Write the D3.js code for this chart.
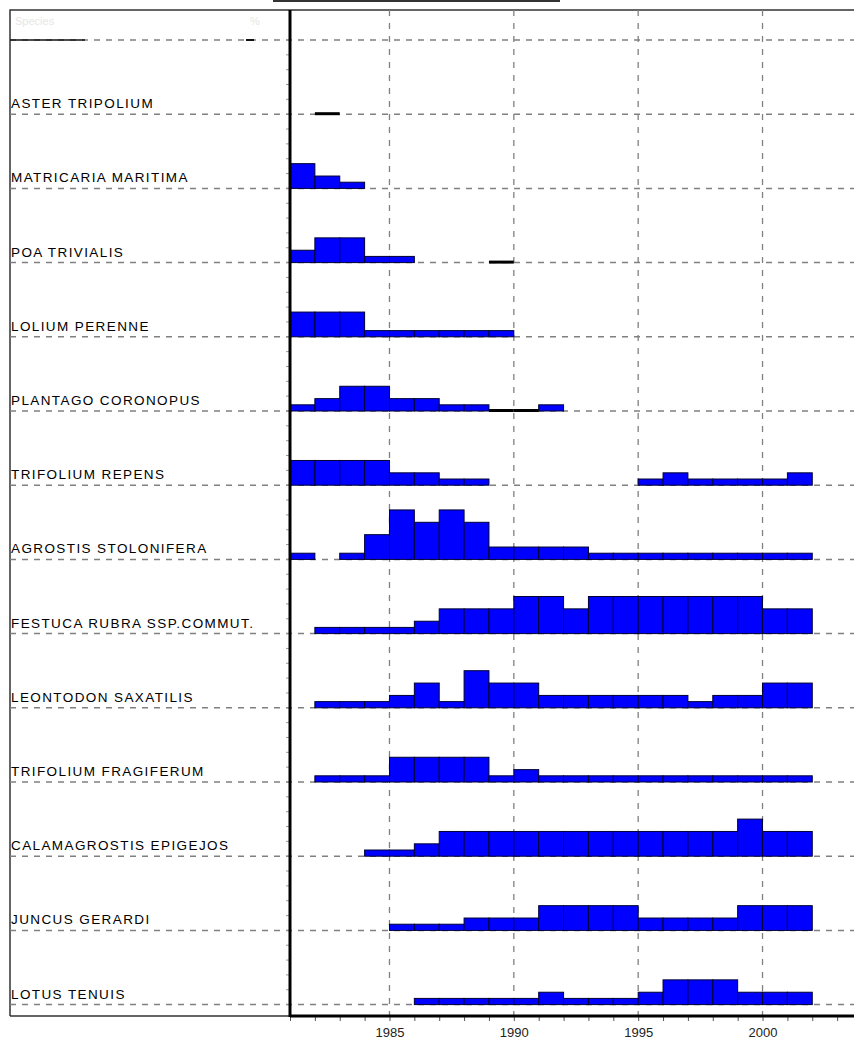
<!DOCTYPE html>
<html>
<head>
<meta charset="utf-8">
<script src="https://cdn.jsdelivr.net/npm/d3@7"></script>
<style>
  body { margin: 0; background: #fff; }
  svg { display: block; font-family: "Liberation Sans", Arial, sans-serif; }
</style>
</head>
<body>
<svg id="chart"></svg>
<script>
// cover classes per year, 1981..2001 (null = absent, 0 = present but ~0)
const years = [1981, 1982, 1983, 1984, 1985, 1986, 1987, 1988, 1989, 1990, 1991,
               1992, 1993, 1994, 1995, 1996, 1997, 1998, 1999, 2000, 2001];
const n = null;

const asterTripolium      = [n, 0, n, n, n, n, n, n, n, n, n, n, n, n, n, n, n, n, n, n, n];
const matricariaMaritima  = [2, 1, .5, n, n, n, n, n, n, n, n, n, n, n, n, n, n, n, n, n, n];
const poaTrivialis        = [1, 2, 2, .5, .5, n, n, n, 0, n, n, n, n, n, n, n, n, n, n, n, n];
const loliumPerenne       = [2, 2, 2, .5, .5, .5, .5, .5, .5, n, n, n, n, n, n, n, n, n, n, n, n];
const plantagoCoronopus   = [.5, 1, 2, 2, 1, 1, .5, .5, 0, 0, .5, n, n, n, n, n, n, n, n, n, n];
const trifoliumRepens     = [2, 2, 2, 2, 1, 1, .5, .5, n, n, n, n, n, n, .5, 1, .5, .5, .5, .5, 1];
const agrostisStolonifera = [.5, n, .5, 2, 4, 3, 4, 3, 1, 1, 1, 1, .5, .5, .5, .5, .5, .5, .5, .5, .5];
const festucaRubra        = [n, .5, .5, .5, .5, 1, 2, 2, 2, 3, 3, 2, 3, 3, 3, 3, 3, 3, 3, 2, 2];
const leontodonSaxatilis  = [n, .5, .5, .5, 1, 2, .5, 3, 2, 2, 1, 1, 1, 1, 1, 1, .5, 1, 1, 2, 2];
const trifoliumFragiferum = [n, .5, .5, .5, 2, 2, 2, 2, .5, 1, .5, .5, .5, .5, .5, .5, .5, .5, .5, .5, .5];
const calamagrostis       = [n, n, n, .5, .5, 1, 2, 2, 2, 2, 2, 2, 2, 2, 2, 2, 2, 2, 3, 2, 2];
const juncusGerardi       = [n, n, n, n, .5, .5, .5, 1, 1, 1, 2, 2, 2, 2, 1, 1, 1, 1, 2, 2, 2];
const lotusTenuis         = [n, n, n, n, n, .5, .5, .5, .5, .5, 1, .5, .5, .5, 1, 2, 2, 2, 1, 1, 1];

const speciesNames = ["", "ASTER TRIPOLIUM", "MATRICARIA MARITIMA", "POA TRIVIALIS",
  "LOLIUM PERENNE", "PLANTAGO CORONOPUS", "TRIFOLIUM REPENS", "AGROSTIS STOLONIFERA",
  "FESTUCA RUBRA SSP.COMMUT.", "LEONTODON SAXATILIS", "TRIFOLIUM FRAGIFERUM",
  "CALAMAGROSTIS EPIGEJOS", "JUNCUS GERARDI", "LOTUS TENUIS"];
const speciesValues = [[], asterTripolium, matricariaMaritima, poaTrivialis, loliumPerenne,
  plantagoCoronopus, trifoliumRepens, agrostisStolonifera, festucaRubra, leontodonSaxatilis,
  trifoliumFragiferum, calamagrostis, juncusGerardi, lotusTenuis];
const majorYears = [1985, 1990, 1995, 2000];

const width = 854, height = 1045;
const panelLeft = 10, axisX = 290, plotTop = 10, plotBottom = 1016;

const svg = d3.select("#chart").attr("width", width).attr("height", height);

const x = d3.scaleLinear().domain([1981, 2004]).range([axisX, 862]);
const row = d3.scalePoint().domain(d3.range(speciesNames.length)).range([40, 1004.6]);
const step = row.step();
const h = d3.scaleLinear().domain([0, 6]).range([0, step]);

// title box edge (cut off at the top)
svg.append("line").attr("x1", 273).attr("x2", 560).attr("y1", 1).attr("y2", 1)
  .attr("stroke", "#333").attr("stroke-width", 2);

// frame of the label panel
svg.append("path")
  .attr("d", `M${panelLeft},${plotBottom}V${plotTop}H${width}M${panelLeft},${plotBottom}H${axisX}`)
  .attr("fill", "none").attr("stroke", "#333").attr("stroke-width", 1.5);

// vertical grid
svg.append("g").selectAll("line").data(majorYears).join("line")
  .attr("x1", d => x(d)).attr("x2", d => x(d))
  .attr("y1", plotTop).attr("y2", plotBottom)
  .attr("stroke", "#808080").attr("stroke-width", 1.3).attr("stroke-dasharray", "6,7");

// row baselines
svg.append("g").selectAll("line").data(speciesNames.map((d, i) => i)).join("line")
  .attr("x1", panelLeft).attr("x2", width)
  .attr("y1", d => row(d)).attr("y2", d => row(d))
  .attr("stroke", "#808080").attr("stroke-width", 1.5).attr("stroke-dasharray", "6,6");

// header row remnants
svg.append("line").attr("x1", panelLeft).attr("x2", 85).attr("y1", row(0)).attr("y2", row(0))
  .attr("stroke", "#111").attr("stroke-width", 1.5);
svg.append("line").attr("x1", 246).attr("x2", 254).attr("y1", row(0)).attr("y2", row(0))
  .attr("stroke", "#111").attr("stroke-width", 2);
svg.append("text").attr("x", 15).attr("y", 25).attr("font-size", 11)
  .attr("fill", "#e6e6e6").text("Species");
svg.append("text").attr("x", 250).attr("y", 25).attr("font-size", 11)
  .attr("fill", "#e6e6e6").text("%");

// bars
const bars = [];
speciesValues.forEach((vals, i) => {
  vals.forEach((v, j) => {
    if (v !== null) bars.push({ row: i, year: years[j], value: v });
  });
});

svg.append("g").selectAll("rect").data(bars.filter(d => d.value > 0)).join("rect")
  .attr("x", d => x(d.year))
  .attr("width", d => x(d.year + 1) - x(d.year))
  .attr("y", d => row(d.row) - h(d.value))
  .attr("height", d => h(d.value))
  .attr("fill", "#0000ff")
  .attr("stroke", "#000033").attr("stroke-width", 1);

svg.append("g").selectAll("rect").data(bars.filter(d => d.value === 0)).join("rect")
  .attr("x", d => x(d.year))
  .attr("width", d => x(d.year + 1) - x(d.year))
  .attr("y", d => row(d.row) - 2)
  .attr("height", 3)
  .attr("fill", "#000");

// species labels
svg.append("g").selectAll("text").data(speciesNames).join("text")
  .attr("x", 11)
  .attr("y", (d, i) => row(i) - 6)
  .attr("font-size", 13.5)
  .attr("letter-spacing", 1.4)
  .attr("fill", "#000")
  .text(d => d);

// left axis ticks
const subTicks = d3.range(0, (speciesNames.length - 1) * 5 + 1).map(k => row(0) + k * step / 5);
svg.append("g").selectAll("line").data(subTicks).join("line")
  .attr("x1", axisX - 4).attr("x2", axisX)
  .attr("y1", d => d).attr("y2", d => d)
  .attr("stroke", "#999").attr("stroke-width", 1);

svg.append("line").attr("x1", axisX).attr("x2", axisX).attr("y1", plotTop).attr("y2", plotBottom + 1)
  .attr("stroke", "#000").attr("stroke-width", 3);

// bottom axis
const xAxis = d3.axisBottom(x)
  .tickValues(d3.range(1981, 2005))
  .tickSize(5)
  .tickPadding(7)
  .tickFormat(d => (d % 5 === 0 ? d : ""));

const gx = svg.append("g").attr("transform", `translate(0,${plotBottom})`).call(xAxis);
gx.select(".domain").remove();
gx.selectAll(".tick line").attr("stroke", "#555");
gx.selectAll(".tick text").attr("font-size", 13).attr("fill", "#222")
  .attr("font-family", "Liberation Sans, Arial, sans-serif");

svg.append("line").attr("x1", axisX).attr("x2", width).attr("y1", plotBottom).attr("y2", plotBottom)
  .attr("stroke", "#000").attr("stroke-width", 3);
</script>
</body>
</html>
